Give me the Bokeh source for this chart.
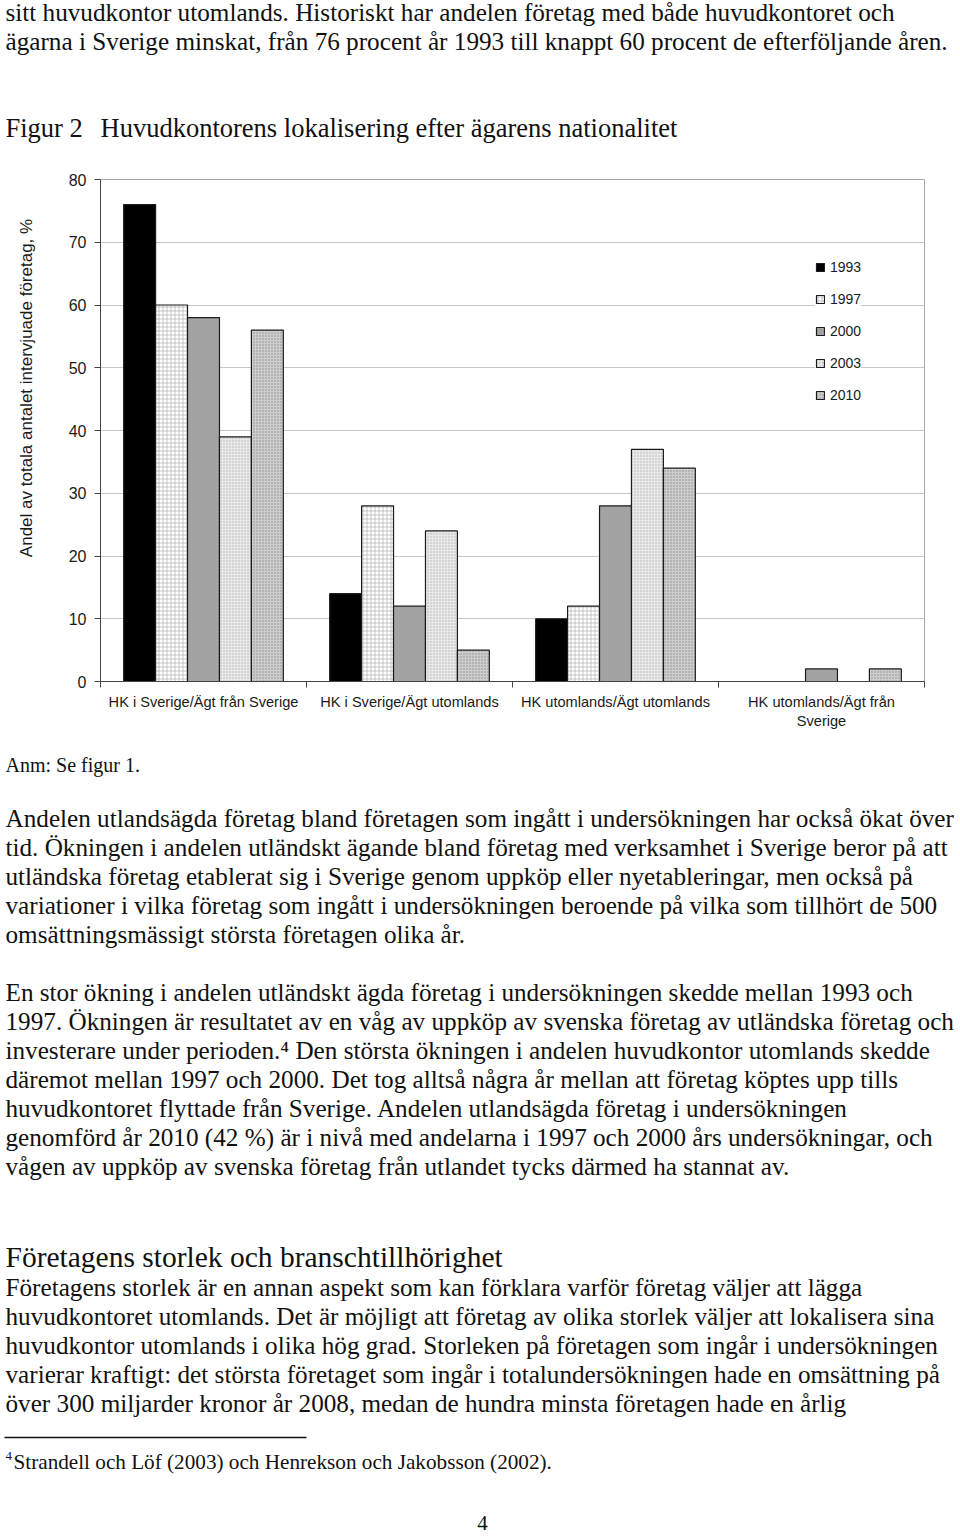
from bokeh.plotting import figure
from bokeh.models import Range1d, FixedTicker, Legend, LegendItem
from bokeh.embed import file_html
from bokeh.resources import INLINE
from bokeh.core.properties import value

# ---------------- data ----------------
categories = ["HK i Sverige/Ägt från Sverige", "HK i Sverige/Ägt utomlands",
              "HK utomlands/Ägt utomlands", "HK utomlands/Ägt från\nSverige"]
years = ["1993", "1997", "2000", "2003", "2010"]
v1993 = [76, 14, 10, 0]
v1997 = [60, 28, 12, 0]
v2000 = [58, 12, 28, 2]
v2003 = [39, 24, 37, 0]
v2010 = [56, 5, 34, 2]
y_ticks = [0, 10, 20, 30, 40, 50, 60, 70, 80]
y_title = "Andel av totala antalet intervjuade företag, %"

top_lines = [
    "sitt huvudkontor utomlands. Historiskt har andelen företag med både huvudkontoret och",
    "ägarna i Sverige minskat, från 76 procent år 1993 till knappt 60 procent de efterföljande åren.",
]
fig_label = "Figur 2"
fig_title = "Huvudkontorens lokalisering efter ägarens nationalitet"
note = "Anm: Se figur 1."
para1 = [
    "Andelen utlandsägda företag bland företagen som ingått i undersökningen har också ökat över",
    "tid. Ökningen i andelen utländskt ägande bland företag med verksamhet i Sverige beror på att",
    "utländska företag etablerat sig i Sverige genom uppköp eller nyetableringar, men också på",
    "variationer i vilka företag som ingått i undersökningen beroende på vilka som tillhört de 500",
    "omsättningsmässigt största företagen olika år.",
]
para2 = [
    "En stor ökning i andelen utländskt ägda företag i undersökningen skedde mellan 1993 och",
    "1997. Ökningen är resultatet av en våg av uppköp av svenska företag av utländska företag och",
    "investerare under perioden.\u2074 Den största ökningen i andelen huvudkontor utomlands skedde",
    "däremot mellan 1997 och 2000. Det tog alltså några år mellan att företag köptes upp tills",
    "huvudkontoret flyttade från Sverige. Andelen utlandsägda företag i undersökningen",
    "genomförd år 2010 (42 %) är i nivå med andelarna i 1997 och 2000 års undersökningar, och",
    "vågen av uppköp av svenska företag från utlandet tycks därmed ha stannat av.",
]
heading = "Företagens storlek och branschtillhörighet"
para3 = [
    "Företagens storlek är en annan aspekt som kan förklara varför företag väljer att lägga",
    "huvudkontoret utomlands. Det är möjligt att företag av olika storlek väljer att lokalisera sina",
    "huvudkontor utomlands i olika hög grad. Storleken på företagen som ingår i undersökningen",
    "varierar kraftigt: det största företaget som ingår i totalundersökningen hade en omsättning på",
    "över 300 miljarder kronor år 2008, medan de hundra minsta företagen hade en årlig",
]
footnote_mark = "4"
footnote = "Strandell och Löf (2003) och Henrekson och Jakobsson (2002)."
page_no = "4"

# ---------------- styles ----------------
W = 960
SERIF = value("Liberation Serif")
SANS = "Liberation Sans"
BODY = "25.2px"
LH = 29

styles = {
    "1993": dict(fill_color="#000000"),
    "1997": dict(fill_color="#ffffff", hatch_pattern="+", hatch_color="#a0a0a0", hatch_scale=4, hatch_weight=0.6),
    "2000": dict(fill_color="#a3a3a3"),
    "2003": dict(fill_color="#e9e9e9", hatch_pattern="dot", hatch_color="#b0b0b0", hatch_scale=3, hatch_weight=0.8),
    "2010": dict(fill_color="#cdcdcd", hatch_pattern="dot", hatch_color="#8c8c8c", hatch_scale=3, hatch_weight=0.8),
}


def text_fig(h):
    f = figure(width=W, height=h, x_range=Range1d(0, W), y_range=Range1d(h, 0),
               output_backend="svg", toolbar_location=None, min_border=0,
               x_axis_location=None, y_axis_location=None)
    f.grid.visible = False
    f.outline_line_color = None
    return f


def put(f, x, y, t, size=BODY, align="left"):
    f.text(x=[x], y=[y], text=[t], text_font=SERIF, text_font_size=size,
           text_color="#111111", text_baseline="middle", text_align=align)


# ---------------- top text (page y 0..160) ----------------
T0 = 0
top = text_fig(160)
for i, t in enumerate(top_lines):
    put(top, 5, 12 + i * LH - T0, t)
put(top, 5, 127 - T0, fig_label, size="26.5px")
put(top, 100, 127 - T0, fig_title, size="26.5px")

# ---------------- chart (page y 160..745) ----------------
p = figure(width=W, height=585, x_range=Range1d(0, 4), y_range=Range1d(0, 80),
           output_backend="svg", toolbar_location=None,
           min_border_left=100, min_border_right=W - 924, min_border_top=19, min_border_bottom=64)
p.background_fill_color = "white"
p.outline_line_color = "#a8a8a8"
p.xgrid.visible = False
p.ygrid.grid_line_color = "#c6c6c6"
p.ygrid.grid_line_width = 1

p.yaxis.ticker = FixedTicker(ticks=y_ticks, minor_ticks=[])
p.yaxis.axis_line_color = "#444444"
p.yaxis.major_tick_line_color = "#444444"
p.yaxis.major_tick_out = 6
p.yaxis.major_tick_in = 0
p.yaxis.major_label_standoff = 8
p.yaxis.major_label_text_font = SANS
p.yaxis.major_label_text_font_size = "16px"
p.yaxis.major_label_text_color = "#1a1a1a"
p.yaxis.axis_label = "\u00a0" * 18 + y_title
p.yaxis.axis_label_standoff = 30
p.yaxis.axis_label_text_font = SANS
p.yaxis.axis_label_text_font_size = "17px"
p.yaxis.axis_label_text_font_style = "normal"
p.yaxis.axis_label_text_color = "#1a1a1a"

ncat = len(categories)
p.xaxis.ticker = FixedTicker(ticks=[i + 0.5 for i in range(ncat)], minor_ticks=list(range(ncat + 1)))
p.xaxis.major_label_overrides = {i + 0.5: c for i, c in enumerate(categories)}
p.xaxis.axis_line_color = "#444444"
p.xaxis.major_tick_line_color = None
p.xaxis.major_tick_out = 0
p.xaxis.major_tick_in = 0
p.xaxis.minor_tick_line_color = "#444444"
p.xaxis.minor_tick_out = 6
p.xaxis.minor_tick_in = 0
p.xaxis.major_label_standoff = 6
p.xaxis.major_label_text_font = SANS
p.xaxis.major_label_text_font_size = "14.6px"
p.xaxis.major_label_text_color = "#1a1a1a"

series = [v1993, v1997, v2000, v2003, v2010]
bw = 0.155
items = []
for j, (yr, vals) in enumerate(zip(years, series)):
    xs = [i + 0.5 + (j - 2) * bw for i in range(ncat)]
    r = p.vbar(x=xs, top=vals, bottom=0, width=bw, line_color="#1c1c1c", line_width=1.2, **styles[yr])
    items.append(LegendItem(label=yr, renderers=[r]))

legend = Legend(items=items, location=(715, 278), orientation="vertical",
                border_line_color=None, background_fill_color="white", background_fill_alpha=1,
                padding=10, margin=0, spacing=16, glyph_width=10, glyph_height=10,
                label_height=10, label_standoff=5,
                label_text_font=SANS, label_text_font_size="14px", label_text_color="#1a1a1a")
p.add_layout(legend)

# ---------------- bottom text (page y 745..1535) ----------------
B0 = 745
bot = text_fig(790)
put(bot, 5, 764 - B0, note, size="20px")
for i, t in enumerate(para1):
    put(bot, 5, 818 + i * LH - B0, t)
for i, t in enumerate(para2):
    put(bot, 5, 992 + i * LH - B0, t)
put(bot, 5, 1256 - B0, heading, size="29.5px")
for i, t in enumerate(para3):
    put(bot, 5, 1287 + i * LH - B0, t)
bot.segment(x0=[4], y0=[1437 - B0], x1=[306], y1=[1437 - B0], line_color="#111111", line_width=1.5)
put(bot, 5, 1455 - B0, footnote_mark, size="13px")
put(bot, 13, 1461 - B0, footnote, size="21.2px")
put(bot, 482, 1522 - B0, page_no, size="21px", align="center")

open("out.html", "w").write(file_html([top, p, bot], INLINE))
